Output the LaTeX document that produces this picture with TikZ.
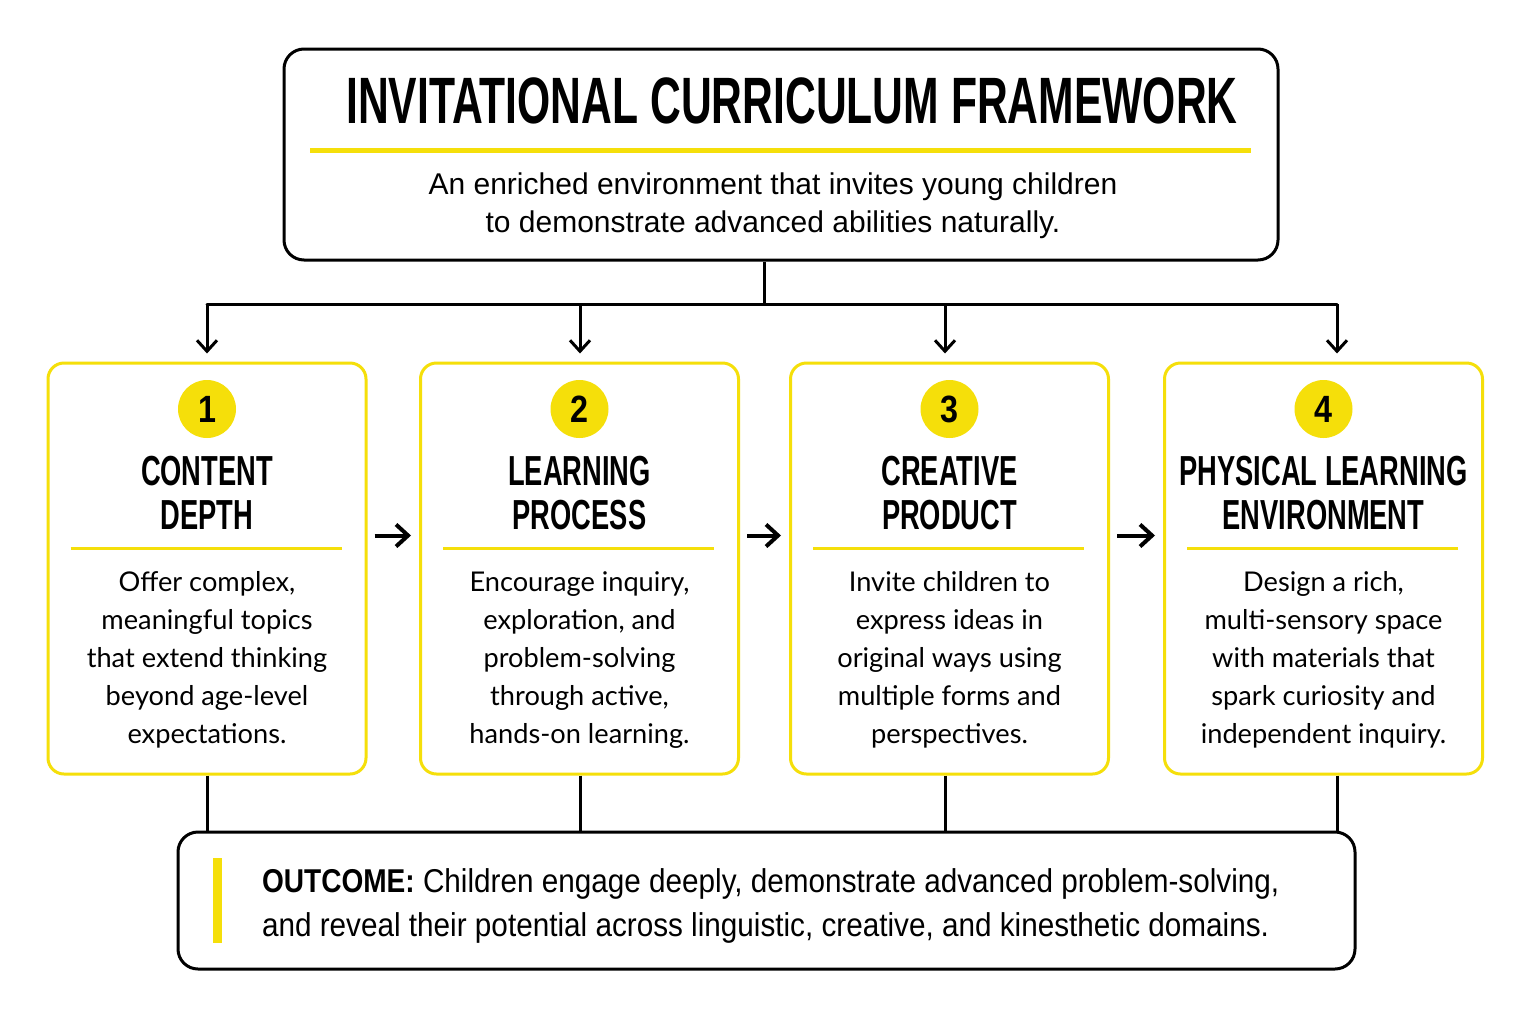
\documentclass[tikz,border=0pt]{standalone}
\usepackage{fontspec}
\setmainfont{Lato}
\newfontfamily\headfont[FakeStretch=0.65]{Liberation Sans}
\newfontfamily\tagfont[FakeStretch=0.85]{Liberation Sans}
\newfontfamily\narrowfont[FakeStretch=0.9]{Liberation Sans}
\newfontfamily\plainfont{Liberation Sans}
\usetikzlibrary{positioning,arrows.meta,calc}
\definecolor{gold}{HTML}{F5DF0A}

\begin{document}
\begin{tikzpicture}[x=0.5pt,y=-0.5pt,
	bigbox/.style={draw=black,line width=1.5pt,rounded corners=10pt,inner sep=0pt},
	stepbox/.style={draw=gold,line width=1.5pt,rounded corners=8pt,minimum width=159pt,minimum height=205.5pt,inner sep=0pt},
	numdot/.style={circle,fill=gold,minimum size=29pt,inner sep=0pt,font=\tagfont\bfseries\fontsize{19}{19}\selectfont},
	steptitle/.style={align=center,font=\headfont\bfseries\fontsize{21}{22}\selectfont},
	steptext/.style={align=center,font=\fontsize{13.6}{19}\selectfont},
	link/.style={line width=1.5pt},
	arr/.style={line width=1.5pt,-{Straight Barb[length=5.5pt,width=10pt]}},
	nextarr/.style={line width=2pt,-{Straight Barb[length=6pt,width=11pt]}}]
	\fill[white] (0,0) rectangle (1533,1018);
	\useasboundingbox (0,0) rectangle (1533,1018);

	% header
	\node[bigbox,minimum width=497pt,minimum height=105.5pt] (title) at (781,154.5) {};
	\node[font=\headfont\bfseries\fontsize{32.8}{34}\selectfont] (name) at (792,101) {INVITATIONAL CURRICULUM FRAMEWORK};
	\draw[gold,line width=2.5pt] (310,150) -- (1251,150);
	\node[align=center,font=\plainfont\fontsize{15}{19}\selectfont] (sub) at (773,206)
		{An enriched environment that invites young children\\to demonstrate advanced abilities naturally.};

	% the four steps
	\foreach \i/\cx/\head/\txt in {
		1/207/{CONTENT\\DEPTH}/{Offer complex,\\meaningful topics\\that extend thinking\\beyond age-level\\expectations.},
		2/579.5/{LEARNING\\PROCESS}/{Encourage inquiry,\\exploration, and\\problem-solving\\through active,\\hands-on learning.},
		3/949.5/{CREATIVE\\PRODUCT}/{Invite children to\\express ideas in\\original ways using\\multiple forms and\\perspectives.},
		4/1323.5/{PHYSICAL LEARNING\\ENVIRONMENT}/{Design a rich,\\multi-sensory space\\with materials that\\spark curiosity and\\independent inquiry.}}
	{
		\node[stepbox] (box\i) at (\cx,568.5) {};
		\node[numdot] (num\i) at (\cx,409) {\i};
		\node[steptitle] (head\i) at (\cx,493) {\head};
		\draw[gold,line width=1.5pt] ($(box\i.west)+(24,-20.5)$) -- ($(box\i.east)+(-26,-20.5)$);
		\node[steptext] (text\i) at (\cx,660) {\txt};
	}

	% outcome
	\node[bigbox,minimum width=588.5pt,minimum height=68.5pt] (outcome) at (766.5,900.5) {};
	\fill[gold] (213,858) rectangle (222,943);
	\node[anchor=west,align=left,font=\narrowfont\fontsize{16.5}{22}\selectfont] (result) at (255,906)
		{{\tagfont\bfseries OUTCOME:} Children engage deeply, demonstrate advanced problem-solving,\\and reveal their potential across linguistic, creative, and kinesthetic domains.};

	% connectors
	\coordinate (split) at (764,304);
	\draw[link] (title.south -| split) -- (split);
	\foreach \i/\bx in {1/207,2/580,3/945,4/1337}
	{
		\coordinate (bus\i) at (\bx,304);
		\draw[arr,shorten >=4pt] (bus\i) -- (bus\i |- box\i.north);
		\draw[link] (box\i.south -| bus\i) -- (outcome.north -| bus\i);
	}
	\draw[link,line cap=round] (bus1) -- (bus4);
	\draw[nextarr,shorten <=3.5pt,shorten >=4pt] ($(box1.east)+(0,-33)$) -- ($(box2.west)+(0,-33)$);
	\draw[nextarr,shorten <=3.5pt,shorten >=4pt] ($(box2.east)+(0,-33)$) -- ($(box3.west)+(0,-33)$);
	\draw[nextarr,shorten <=3.5pt,shorten >=4pt] ($(box3.east)+(0,-33)$) -- ($(box4.west)+(0,-33)$);
\end{tikzpicture}
\end{document}
